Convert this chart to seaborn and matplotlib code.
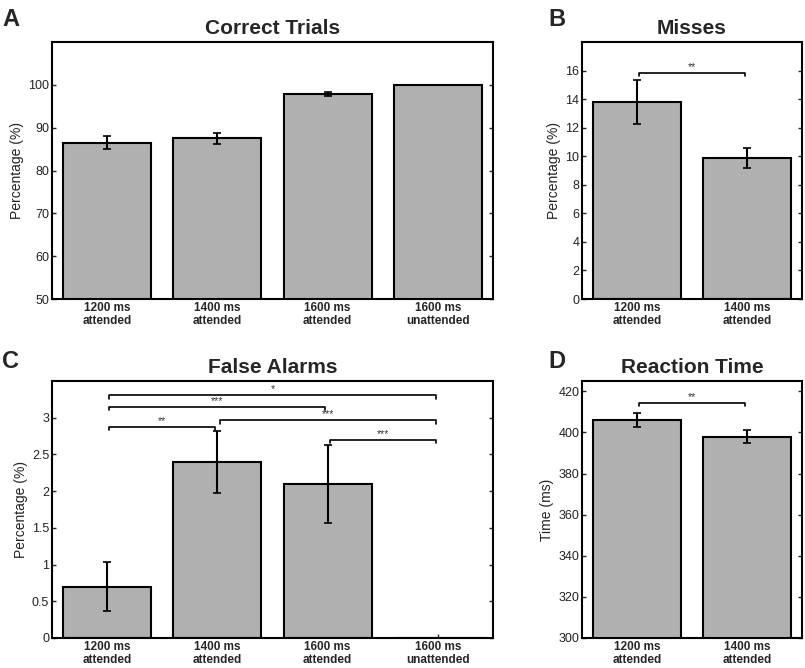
import matplotlib
matplotlib.use("Agg")
import matplotlib.pyplot as plt
import seaborn as sns
import pandas as pd
import numpy as np

sns.set_style("white")
plt.rcParams['font.family'] = ['Liberation Sans', 'DejaVu Sans']

# ---- data ----
cats4 = ["1200 ms\nattended", "1400 ms\nattended", "1600 ms\nattended", "1600 ms\nunattended"]
cats2 = ["1200 ms\nattended", "1400 ms\nattended"]

correct_vals = [86.5, 87.5, 97.8, 100.0]
correct_err = [1.5, 1.2, 0.5, 0.0]

misses_vals = [13.8, 9.9]
misses_err = [1.55, 0.7]

fa_vals = [0.70, 2.40, 2.10, 0.0]
fa_err = [0.33, 0.42, 0.53, 0.0]

rt_vals = [406.0, 398.0]
rt_err = [3.5, 3.2]

# brackets: (i, j, y, label)
misses_brackets = [(0, 1, 15.85, "**")]
fa_brackets = [(0, 3, 3.31, "*"), (0, 2, 3.15, "***"), (1, 3, 2.97, "***"),
               (0, 1, 2.88, "**"), (2, 3, 2.70, "***")]
rt_brackets = [(0, 1, 414.3, "**")]

BAR = "#b0b0b0"

fig = plt.figure(figsize=(8.05, 6.68), dpi=100)
W, H = 805, 668

def axes_px(l, t, r, b):
    return fig.add_axes([l / W, 1 - b / H, (r - l) / W, (b - t) / H])

axA = axes_px(52, 42, 493, 299)
axB = axes_px(582, 42, 802, 299)
axC = axes_px(52, 381, 493, 638)
axD = axes_px(582, 381, 802, 638)


def draw(ax, cats, vals, errs, ylim, yticks, yticklabels, title, ylabel, brackets, tickdh):
    df = pd.DataFrame({"cond": cats, "val": vals})
    sns.barplot(data=df, x="cond", y="val", ax=ax, color=BAR, saturation=1,
                width=0.8, edgecolor="black", linewidth=1.5, errorbar=None, zorder=2)
    x = np.arange(len(cats))
    e = np.array(errs)
    mask = e > 0
    ax.errorbar(x[mask], np.array(vals)[mask], yerr=e[mask], fmt="none", ecolor="black",
                elinewidth=1.5, capsize=3, capthick=1.2, zorder=3)
    ax.set_xlim(-0.5, len(cats) - 0.5)
    ax.set_ylim(*ylim)
    ax.set_yticks(yticks)
    ax.set_yticklabels(yticklabels)
    ax.set_xlabel("")
    ax.set_ylabel(ylabel, fontsize=10, color="#222222", labelpad=3)
    ax.set_title(title, fontsize=15, fontweight="bold", pad=6)
    for lbl in ax.get_xticklabels():
        lbl.set_fontweight("bold")
        lbl.set_fontsize(8.5)
        lbl.set_linespacing(1.1)
    ax.tick_params(axis="y", direction="in", length=3, width=1, labelsize=9,
                   right=True, left=True, labelcolor="#222222", pad=2)
    ax.tick_params(axis="x", direction="in", length=3, width=1, pad=2, bottom=True)
    for s in ax.spines.values():
        s.set_visible(True)
        s.set_linewidth(1.5)
        s.set_color("black")
        s.set_zorder(5)
    for (i, j, y, lab) in brackets:
        xi, xj = i + 0.02, j - 0.02
        ax.plot([xi, xi, xj, xj], [y - tickdh, y, y, y - tickdh], color="black",
                lw=1.2, zorder=4, clip_on=False)
        ax.text((xi + xj) / 2, y + tickdh * 0.2, lab, ha="center", va="bottom",
                fontsize=7.5, color="#333333")


draw(axA, cats4, correct_vals, correct_err, (50, 110), [50, 60, 70, 80, 90, 100],
     ["50", "60", "70", "80", "90", "100"], "Correct Trials", "Percentage (%)", [], 0.5)
draw(axB, cats2, misses_vals, misses_err, (0, 18), list(range(0, 17, 2)),
     [str(v) for v in range(0, 17, 2)], "Misses", "Percentage (%)", misses_brackets, 0.25)
draw(axC, cats4, fa_vals, fa_err, (0, 3.5), [0, 0.5, 1, 1.5, 2, 2.5, 3],
     ["0", "0.5", "1", "1.5", "2", "2.5", "3"], "False Alarms", "Percentage (%)", fa_brackets, 0.05)
draw(axD, cats2, rt_vals, rt_err, (300, 425), list(range(300, 421, 20)),
     [str(v) for v in range(300, 421, 20)], "Reaction Time", "Time (ms)", rt_brackets, 1.5)

for lab, (px, py) in zip("ABCD", [(2, 20), (548, 20), (2, 362), (548, 362)]):
    fig.text(px / W, 1 - py / H, lab, fontsize=17, fontweight="bold", ha="left", va="center")

fig.savefig("out.png", dpi=100)
